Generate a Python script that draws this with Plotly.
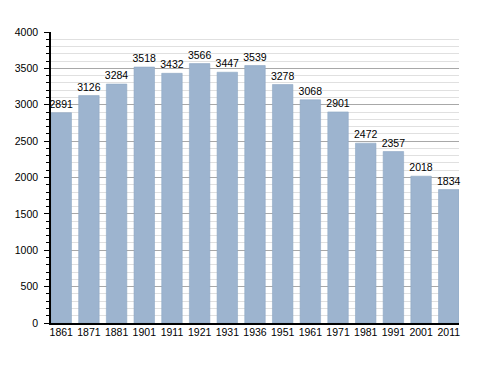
import plotly.graph_objects as go

years = ["1861", "1871", "1881", "1901", "1911", "1921", "1931", "1936", "1951", "1961", "1971", "1981", "1991", "2001", "2011"]
population = [2891, 3126, 3284, 3518, 3432, 3566, 3447, 3539, 3278, 3068, 2901, 2472, 2357, 2018, 1834]

gap = 0.26
half = (1 - gap) / 2
fsize = 10.5

fig = go.Figure()
fig.add_trace(go.Bar(
    x=years, y=population,
    marker=dict(color="#9db4cf", line=dict(color="#8fa8c4", width=0.6)),
    text=[str(v) for v in population], textposition="outside",
    textfont=dict(family="Liberation Sans, Arial", size=fsize, color="black"),
    cliponaxis=False,
))
# page body has an 8px default margin; size/margins compensate for it
fig.update_layout(
    width=480, height=365,
    margin=dict(l=43, r=29, t=24, b=50),
    paper_bgcolor="white", plot_bgcolor="white",
    bargap=gap,
    showlegend=False,
    font=dict(family="Liberation Sans, Arial", size=fsize, color="black"),
    uniformtext=dict(minsize=fsize, mode="show"),
)
fig.update_xaxes(
    type="category", range=[-half, len(years) - 1 + half], automargin=False,
    showline=True, linecolor="black", linewidth=2,
    ticks="", tickfont=dict(size=fsize), showgrid=False, ticklabelstandoff=-2,
)
fig.update_yaxes(
    range=[0, 4000], dtick=500, automargin=False,
    showline=True, linecolor="black", linewidth=1.5,
    ticks="outside", ticklen=5, tickcolor="black", ticklabelstandoff=4,
    showgrid=True, gridcolor="#a8a8a8", gridwidth=1, zeroline=False,
    minor=dict(dtick=100, ticks="outside", ticklen=3, tickcolor="black", showgrid=True, gridcolor="#e0e0e0", gridwidth=1),
    tickfont=dict(size=fsize),
)
fig.write_html("out.html")
